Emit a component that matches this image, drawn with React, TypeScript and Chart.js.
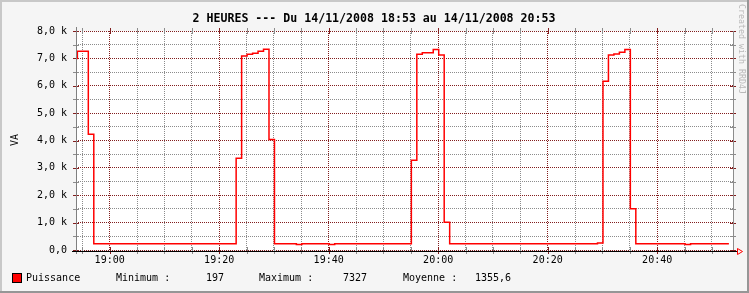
import { useEffect, useRef } from 'react';
import { Chart, registerables } from 'chart.js';

Chart.register(...registerables);

// ---------- text ----------
const TITLE = '2 HEURES --- Du 14/11/2008 18:53 au 14/11/2008 20:53';
const Y_TITLE = 'VA';
const WATERMARK = 'Created with RRD4J';
const SERIES_NAME = 'Puissance';
const LEGEND_LABELS = ['Minimum :', 'Maximum :', 'Moyenne :'];
const LEGEND_VALUES = ['197', '7327', '1355,6'];

// ---------- data ----------
// one sample per minute; first sample at 18:53:06 (minutes after 18:00)
const SAMPLE_START = 53.1;
const SAMPLE_STEP = 1;
const puissance = [
  7000, 7260, 7260, 4230,
  225, 225, 225, 225, 225, 225, 225, 225, 225, 225, 225, 225, 225,
  225, 225, 225, 225, 225, 225, 225, 225, 225, 225, 225, 225, 225,
  3350, 7090, 7150, 7190, 7260, 7330, 4040,
  225, 225, 225, 225, 197, 225, 225, 225, 225, 225, 197,
  225, 225, 225, 225, 225, 225, 225, 225, 225, 225, 225, 225, 225, 225,
  3280, 7150, 7210, 7210, 7327, 7120, 1010,
  225, 225, 225, 225, 225, 225, 225, 225, 225, 225, 225, 225, 225, 225,
  225, 225, 225, 225, 225, 225, 225, 225, 225, 225, 225, 225, 225,
  260, 6160, 7120, 7160, 7220, 7327, 1510,
  225, 225, 225, 225, 225, 225, 225, 225, 225, 197,
  225, 225, 225, 225, 225, 225, 225, 225,
];

// ---------- axes ----------
const X_MIN = 53.85;
const X_MAX = 173.85;
const X_TICKS = [55, 60, 65, 70, 75, 80, 85, 90, 95, 100, 105, 110, 115, 120, 125, 130, 135, 140, 145, 150, 155, 160, 165, 170];
const X_MAJOR = [60, 80, 100, 120, 140, 160];
const X_LABELS = ['19:00', '19:20', '19:40', '20:00', '20:20', '20:40'];
const Y_MIN = 0;
const Y_MAX = 8000;
const Y_TICKS = [0, 500, 1000, 1500, 2000, 2500, 3000, 3500, 4000, 4500, 5000, 5500, 6000, 6500, 7000, 7500, 8000];
const Y_MAJOR = [0, 1000, 2000, 3000, 4000, 5000, 6000, 7000, 8000];
const Y_LABELS = ['0,0', '1,0 k', '2,0 k', '3,0 k', '4,0 k', '5,0 k', '6,0 k', '7,0 k', '8,0 k'];

// ---------- colours ----------
const BACK = 'rgb(245,245,245)';
const SHADE_A = 'rgb(200,200,200)';
const SHADE_B = 'rgb(150,150,150)';
const GRID = 'rgb(140,140,140)';
const MGRID = 'rgb(130,30,30)';
const LINE = '#ff0000';
const MONO = '"DejaVu Sans Mono", monospace';

const isMajorX = (v: number) => X_MAJOR.includes(v);
const isMajorY = (v: number) => Y_MAJOR.includes(v);

const rrdPlugin = {
  id: 'rrd',
  beforeDraw(chart: any) {
    const { ctx, chartArea: a, width: W, height: H } = chart;
    ctx.save();
    ctx.fillStyle = BACK;
    ctx.fillRect(0, 0, W, H);
    ctx.fillStyle = SHADE_A;
    ctx.fillRect(0, 0, W, 2);
    ctx.fillRect(0, 0, 2, H);
    ctx.fillStyle = SHADE_B;
    ctx.fillRect(0, H - 2, W, 2);
    ctx.fillRect(W - 2, 0, 2, H);
    ctx.fillStyle = '#ffffff';
    ctx.fillRect(a.left, a.top, a.right - a.left, a.bottom - a.top);

    // title
    ctx.fillStyle = '#000';
    ctx.font = `bold 11.6px ${MONO}`;
    ctx.textAlign = 'center';
    ctx.textBaseline = 'middle';
    ctx.fillText(TITLE, 374, 18.5);

    // y title
    ctx.save();
    ctx.font = `10px ${MONO}`;
    ctx.translate(15, 140);
    ctx.rotate(-Math.PI / 2);
    ctx.fillText(Y_TITLE, 0, 0);
    ctx.restore();

    // watermark
    ctx.save();
    ctx.fillStyle = 'rgb(185,185,185)';
    ctx.font = `8.3px ${MONO}`;
    ctx.textAlign = 'left';
    ctx.translate(741, 4);
    ctx.rotate(Math.PI / 2);
    ctx.fillText(WATERMARK, 0, 0);
    ctx.restore();

    // legend
    ctx.fillStyle = LINE;
    ctx.fillRect(12, 273, 10, 10);
    ctx.strokeStyle = '#000';
    ctx.lineWidth = 1;
    ctx.strokeRect(12.5, 273.5, 9, 9);
    ctx.fillStyle = '#000';
    ctx.font = `10px ${MONO}`;
    ctx.textAlign = 'left';
    ctx.textBaseline = 'middle';
    const ly = 278.5;
    ctx.fillText(SERIES_NAME, 26, ly);
    const labelX = [116, 259, 403];
    const valueX = [206, 343, 475];
    LEGEND_LABELS.forEach((t, i) => ctx.fillText(t, labelX[i], ly));
    LEGEND_VALUES.forEach((t, i) => ctx.fillText(t, valueX[i], ly));
    ctx.restore();
  },
  beforeDatasetsDraw(chart: any) {
    const { ctx, chartArea: a } = chart;
    const xs = chart.scales.x;
    const ys = chart.scales.y;
    ctx.save();
    ctx.lineWidth = 1;
    ctx.setLineDash([]);
    Y_TICKS.forEach((v) => {
      const y = Math.round(ys.getPixelForValue(v)) + 0.5;
      ctx.strokeStyle = isMajorY(v) ? MGRID : GRID;
      ctx.beginPath();
      ctx.moveTo(a.left - 3, y);
      ctx.lineTo(a.left + 3, y);
      ctx.moveTo(a.right - 3, y);
      ctx.lineTo(a.right + 3, y);
      ctx.stroke();
    });
    X_TICKS.forEach((v) => {
      const x = Math.round(xs.getPixelForValue(v)) + 0.5;
      ctx.strokeStyle = isMajorX(v) ? MGRID : GRID;
      ctx.beginPath();
      ctx.moveTo(x, a.top - 3);
      ctx.lineTo(x, a.top + 3);
      ctx.moveTo(x, a.bottom - 3);
      ctx.lineTo(x, a.bottom + 4);
      ctx.stroke();
    });
    ctx.restore();
  },
  afterDraw(chart: any) {
    const { ctx, chartArea: a } = chart;
    ctx.save();
    ctx.lineWidth = 1;
    ctx.setLineDash([]);
    // right frame line
    ctx.strokeStyle = GRID;
    ctx.beginPath();
    ctx.moveTo(a.right + 0.5, a.top);
    ctx.lineTo(a.right + 0.5, a.bottom);
    ctx.stroke();
    // y axis
    ctx.strokeStyle = 'rgb(128,128,128)';
    ctx.beginPath();
    ctx.moveTo(a.left + 0.5, a.top - 4);
    ctx.lineTo(a.left + 0.5, a.bottom + 4);
    ctx.stroke();
    // x axis
    const yb = a.bottom + 1.5;
    ctx.strokeStyle = '#000';
    ctx.beginPath();
    ctx.moveTo(a.left - 4, yb);
    ctx.lineTo(a.right + 4, yb);
    ctx.stroke();
    // arrow
    ctx.strokeStyle = 'red';
    ctx.beginPath();
    ctx.moveTo(a.right + 4.5, yb - 3);
    ctx.lineTo(a.right + 4.5, yb + 3);
    ctx.lineTo(a.right + 9.5, yb);
    ctx.closePath();
    ctx.stroke();
    ctx.restore();
  },
};

export default function App() {
  const ref = useRef<HTMLCanvasElement>(null);
  useEffect(() => {
    document.body.style.margin = '0';
    const canvas = ref.current;
    if (!canvas) return;
    const points = puissance.map((v, i) => ({ x: SAMPLE_START + i * SAMPLE_STEP, y: v }));
    const chart = new Chart(canvas, {
      type: 'line',
      data: {
        datasets: [
          {
            label: SERIES_NAME,
            data: points,
            borderColor: LINE,
            borderWidth: 1.5,
            stepped: 'before',
            pointRadius: 0,
            fill: false,
          },
        ],
      },
      options: {
        animation: false,
        responsive: false,
        maintainAspectRatio: false,
        devicePixelRatio: 1,
        events: [],
        layout: { padding: { top: 31, right: 16, left: 0, bottom: 0 } },
        plugins: {
          legend: { display: false },
          tooltip: { enabled: false },
          title: { display: false },
        },
        scales: {
          x: {
            type: 'linear',
            min: X_MIN,
            max: X_MAX,
            afterBuildTicks: (s: any) => {
              s.ticks = X_TICKS.map((v) => ({ value: v }));
            },
            afterFit: (s: any) => {
              s.height = 43;
            },
            grid: {
              color: (c: any) => (c.tick && isMajorX(c.tick.value) ? MGRID : GRID),
              lineWidth: 1,
              drawTicks: false,
            },
            border: { display: false, dash: [1, 1] },
            ticks: {
              autoSkip: false,
              maxRotation: 0,
              minRotation: 0,
              padding: 4,
              color: '#000',
              font: { family: MONO, size: 10 },
              callback: (v: any) => {
                const i = X_MAJOR.indexOf(Number(v));
                return i >= 0 ? X_LABELS[i] : '';
              },
            },
          },
          y: {
            type: 'linear',
            min: Y_MIN,
            max: Y_MAX,
            afterBuildTicks: (s: any) => {
              s.ticks = Y_TICKS.map((v) => ({ value: v }));
            },
            afterFit: (s: any) => {
              s.width = 76;
            },
            grid: {
              color: (c: any) => (c.tick && isMajorY(c.tick.value) ? MGRID : GRID),
              lineWidth: 1,
              drawTicks: false,
            },
            border: { display: false, dash: [1, 1] },
            ticks: {
              autoSkip: false,
              padding: 9,
              color: '#000',
              font: { family: MONO, size: 10 },
              callback: (v: any) => {
                const i = Y_MAJOR.indexOf(Number(v));
                return i >= 0 ? Y_LABELS[i] : '';
              },
            },
          },
        },
      },
      plugins: [rrdPlugin],
    });
    return () => chart.destroy();
  }, []);
  return (
    <div style={{ width: 749, height: 293 }}>
      <canvas ref={ref} width={749} height={293} style={{ display: 'block', width: 749, height: 293 }} />
    </div>
  );
}
